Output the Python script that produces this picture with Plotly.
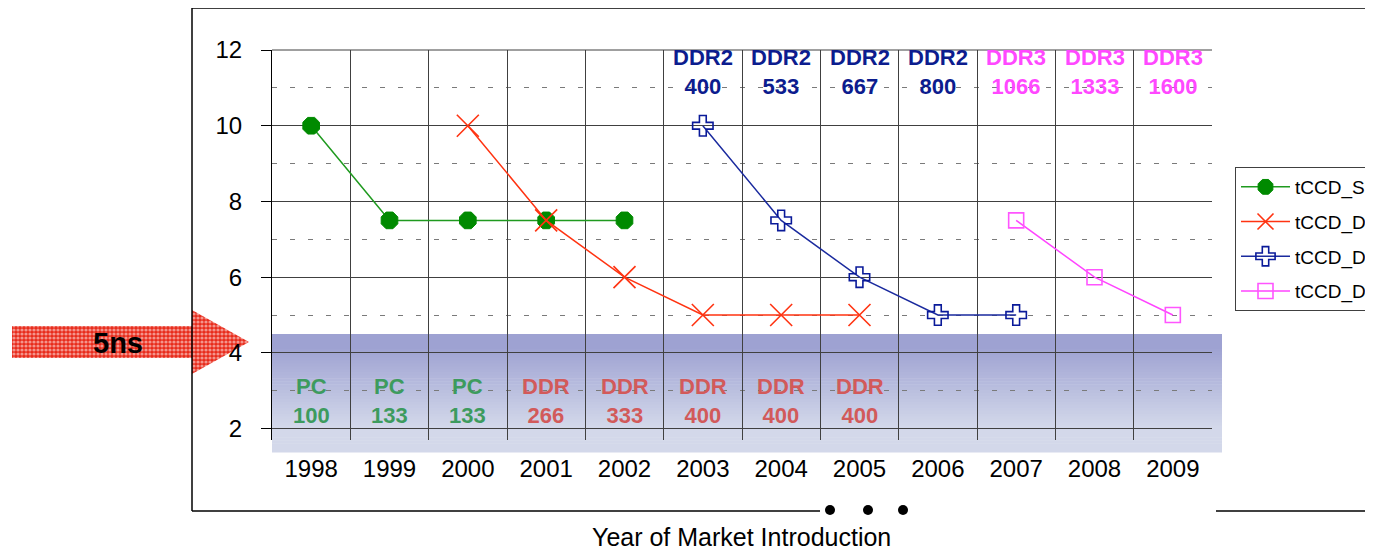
import plotly.graph_objects as go

# ---------------- data ----------------
years = ['1998', '1999', '2000', '2001', '2002', '2003', '2004', '2005',
         '2006', '2007', '2008', '2009']

tccd_s_years = ['1998', '1999', '2000', '2001', '2002']
tccd_s = [10, 7.5, 7.5, 7.5, 7.5]

tccd_d1_years = ['2000', '2001', '2002', '2003', '2004', '2005']
tccd_d1 = [10, 7.5, 6, 5, 5, 5]

tccd_d2_years = ['2003', '2004', '2005', '2006', '2007']
tccd_d2 = [10, 7.5, 6, 5, 5]

tccd_d3_years = ['2007', '2008', '2009']
tccd_d3 = [7.5, 6, 5]

top_years = ['2003', '2004', '2005', '2006', '2007', '2008', '2009']
top_type = ['DDR2', 'DDR2', 'DDR2', 'DDR2', 'DDR3', 'DDR3', 'DDR3']
top_speed = ['400', '533', '667', '800', '1066', '1333', '1600']

bottom_years = ['1998', '1999', '2000', '2001', '2002', '2003', '2004', '2005']
bottom_type = ['PC', 'PC', 'PC', 'DDR', 'DDR', 'DDR', 'DDR', 'DDR']
bottom_speed = ['100', '133', '133', '266', '333', '400', '400', '400']

y_ticks = [2, 4, 6, 8, 10, 12]
threshold_ns = 4.5

# ---------------- layout constants ----------------
OFF = 8                     # page body margin of the html page
W, H = 1373, 549 - OFF
def px(v):
    return v - OFF
def py(v):
    return v - OFF
PL, PR, PT, PB = px(272), px(1212), py(50), py(440)
FONT = 'Liberation Sans, Arial, sans-serif'

C_GREEN_TXT = '#3d9b5e'
C_RED_TXT = '#d25a5a'
C_DDR2 = '#0c1c8e'
C_DDR3 = '#ff48ff'

fig = go.Figure()

# full-page overlay axes (pixel coordinates) for decorations: arrow
arrow_x = [px(v) for v in [12, 192, 192, 249, 192, 192, 12, 12]]
arrow_y = [py(v) for v in [326, 326, 310, 342, 374, 358, 358, 326]]
fig.add_trace(go.Scatter(
    x=arrow_x, y=arrow_y, mode='lines', fill='toself',
    line=dict(width=0, color='#e82a1a'),
    fillcolor='#e82a1a',
    fillpattern=dict(shape='.', fgcolor='#ffffff', bgcolor='#e82a1a',
                     size=4, solidity=0.5),
    xaxis='x', yaxis='y', showlegend=False, hoverinfo='skip'))

# ---------------- series ----------------
fig.add_trace(go.Scatter(
    x=tccd_s_years, y=tccd_s, name='tCCD_S', mode='lines+markers',
    line=dict(color='#1f9a1f', width=1.5),
    marker=dict(symbol='octagon', size=18, color='#008a00',
                line=dict(color='#008a00', width=1)),
    xaxis='x2', yaxis='y2', legendgroup='a'))
fig.add_trace(go.Scatter(
    x=tccd_d1_years, y=tccd_d1, name='tCCD_D1', mode='lines+markers',
    line=dict(color='#ff3311', width=1.5),
    marker=dict(symbol='x-thin', size=22, color='#ff3311',
                line=dict(color='#ff3311', width=1.6)),
    xaxis='x2', yaxis='y2', legendgroup='b'))
fig.add_trace(go.Scatter(
    x=tccd_d2_years, y=tccd_d2, name='tCCD_D2', mode='lines+markers',
    line=dict(color='#1a2a9e', width=1.5),
    marker=dict(symbol='cross-open', size=17, color='#0a1a99',
                line=dict(color='#0a1a99', width=1.6)),
    xaxis='x2', yaxis='y2', legendgroup='c'))
fig.add_trace(go.Scatter(
    x=tccd_d3_years, y=tccd_d3, name='tCCD_D3', mode='lines+markers',
    line=dict(color='#ff44ff', width=1.5),
    marker=dict(symbol='square-open', size=15, color='#ff55ff',
                line=dict(color='#ff55ff', width=1.6)),
    xaxis='x2', yaxis='y2', legendgroup='d'))

# ---------------- decoration shapes (pixel coords on overlay axes) -------
shapes = []
ppu = (PB - PT) / (12 - 1.7)
band_top = PT + (12 - threshold_ns) * ppu
band_bot = py(452)
N = 40
def mix(c1, c2, t):
    a = [int(c1[i:i + 2], 16) for i in (1, 3, 5)]
    b = [int(c2[i:i + 2], 16) for i in (1, 3, 5)]
    return '#%02x%02x%02x' % tuple(round(a[k] + (b[k] - a[k]) * t) for k in range(3))
for i in range(N):
    y0 = band_top + (band_bot - band_top) * i / N
    y1 = band_top + (band_bot - band_top) * (i + 1) / N + 0.6
    t = i / (N - 1)
    tt = 0 if t < 0.1 else min(1, (t - 0.1) / 0.7)
    shapes.append(dict(type='rect', xref='x', yref='y', x0=PL, x1=px(1222),
                       y0=y0, y1=y1, line=dict(width=0),
                       fillcolor=mix('#9ea2d2', '#d3d8ea', tt), layer='below'))
# outer frame
frame = dict(color='#000000', width=1.5)
shapes += [
    dict(type='line', xref='x', yref='y', x0=px(192), x1=W + 5, y0=py(8), y1=py(8), line=frame),
    dict(type='line', xref='x', yref='y', x0=px(192), x1=px(192), y0=py(8), y1=py(511), line=frame),
    dict(type='line', xref='x', yref='y', x0=px(192), x1=px(820), y0=py(511), y1=py(511), line=frame),
    dict(type='line', xref='x', yref='y', x0=px(1216), x1=W + 5, y0=py(511), y1=py(511), line=frame),
]
for cx in (830, 868, 903):
    shapes.append(dict(type='circle', xref='x', yref='y', x0=px(cx) - 5, x1=px(cx) + 5,
                       y0=py(505), y1=py(515), fillcolor='#000000', line=dict(width=0)))
# top edge of plot grid
shapes.append(dict(type='line', xref='x2 domain', yref='y2 domain', x0=0, x1=1,
                   y0=1, y1=1, line=dict(color='#404040', width=1)))

# ---------------- annotations ----------------
ann = []
for yr, tp, sp in zip(top_years, top_type, top_speed):
    col = C_DDR2 if tp == 'DDR2' else C_DDR3
    ann.append(dict(x=years.index(yr), y=11.42, xref='x2', yref='y2',
                    text=f'<b>{tp}<br>{sp}</b>',
                    showarrow=False, font=dict(family=FONT, size=22, color=col),
                    align='center'))
for yr, tp, sp in zip(bottom_years, bottom_type, bottom_speed):
    col = C_GREEN_TXT if tp == 'PC' else C_RED_TXT
    ann.append(dict(x=years.index(yr), y=2.73, xref='x2', yref='y2',
                    text=f'<b>{tp}<br>{sp}</b>',
                    showarrow=False, font=dict(family=FONT, size=22, color=col),
                    align='center'))
ann.append(dict(x=px(118), y=py(343), xref='x', yref='y', text='<b>5ns</b>', showarrow=False,
                font=dict(family=FONT, size=29, color='#000000')))
ann.append(dict(x=px(741), y=py(537), xref='x', yref='y', text='Year of Market Introduction',
                showarrow=False, font=dict(family=FONT, size=25, color='#000000')))

fig.update_layout(
    width=W, height=H,
    margin=dict(l=0, r=0, t=0, b=0, autoexpand=False),
    paper_bgcolor='#ffffff', plot_bgcolor='rgba(0,0,0,0)',
    font=dict(family=FONT, size=18, color='#000000'),
    xaxis=dict(domain=[0, 1], range=[0, W], visible=False, fixedrange=True),
    yaxis=dict(domain=[0, 1], range=[H, 0], visible=False, fixedrange=True),
    xaxis2=dict(domain=[PL / W, PR / W], anchor='y2', type='category',
                categoryorder='array', categoryarray=years,
                range=[-0.5, len(years) - 0.5],
                tickson='boundaries', ticks='', showgrid=True,
                gridcolor='#404040', gridwidth=1, showline=False, zeroline=False,
                tickfont=dict(family=FONT, size=24, color='#000000'),
                ticklabelstandoff=12),
    yaxis2=dict(domain=[1 - PB / H, 1 - PT / H], anchor='x2', range=[1.7, 12],
                tickvals=y_ticks, ticks='outside', ticklen=10, tickcolor='#000000',
                showline=True, linecolor='#000000', linewidth=1,
                showgrid=True, gridcolor='#404040', gridwidth=1, zeroline=False,
                minor=dict(tick0=1, dtick=1, showgrid=True, gridcolor='#7a7a7a',
                           griddash='5px,13px', ticks=''),
                tickfont=dict(family=FONT, size=24, color='#000000'),
                ticklabelstandoff=14),
    legend=dict(x=px(1235) / W, y=1 - py(167) / H, xanchor='left', yanchor='top',
                bgcolor='#ffffff', bordercolor='#404040', borderwidth=1,
                font=dict(family=FONT, size=19, color='#000000'),
                traceorder='grouped', tracegroupgap=7, itemwidth=49),
    shapes=shapes, annotations=ann,
)

fig.write_html('out.html')
